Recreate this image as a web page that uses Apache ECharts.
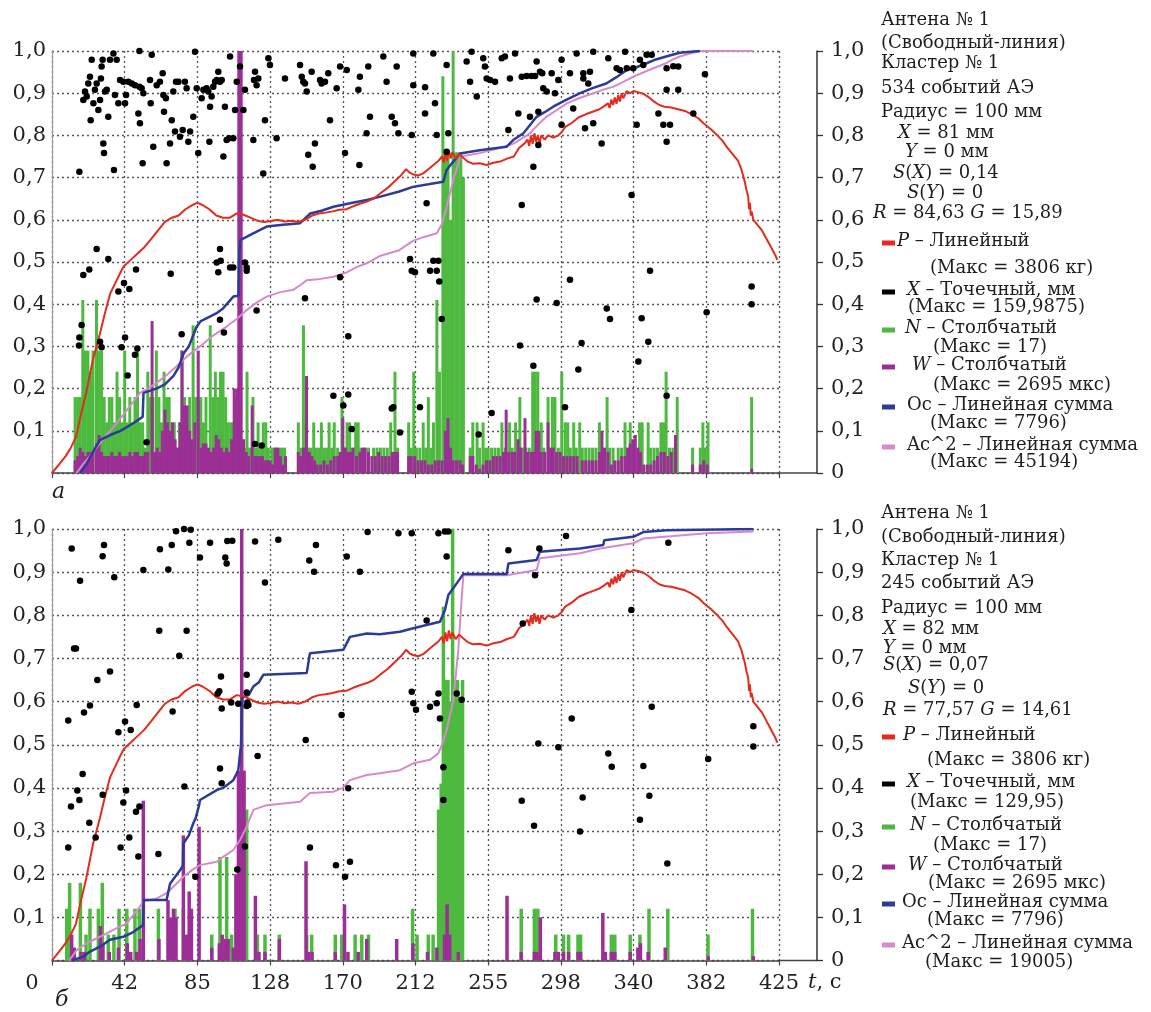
<!DOCTYPE html>
<html><head><meta charset="utf-8">
<script src="https://cdn.jsdelivr.net/npm/echarts@6/dist/echarts.min.js"></script>
<style>html,body{margin:0;padding:0;background:#fff}#c{width:1151px;height:1012px}</style>
</head><body><div id="c"></div>
<script>
// ---------------- DATA ----------------
const xTickLabels = ['0','42','85','128','170','212','255','298','340','382','425'];

// P – load curve (same in both panels), [t, normalized value]
const pCurve = [[0,0],[4,0.02],[8,0.04],[11,0.06],[14,0.085],[17,0.14],[20,0.19],[24,0.27],[28,0.33],[31,0.38],[34,0.425],[37,0.45],[40,0.475],[42,0.49],[46,0.505],[50,0.52],[54,0.535],[58,0.555],[62,0.575],[66,0.595],[70,0.605],[74,0.61],[78,0.625],[82,0.635],[85,0.64],[88,0.635],[92,0.625],[96,0.61],[100,0.605],[104,0.605],[108,0.615],[112,0.612],[116,0.605],[120,0.598],[124,0.595],[128,0.597],[132,0.6],[136,0.596],[140,0.598],[144,0.595],[148,0.6],[152,0.61],[156,0.615],[160,0.617],[164,0.62],[168,0.624],[172,0.625],[176,0.632],[180,0.638],[184,0.643],[188,0.65],[192,0.663],[196,0.675],[200,0.69],[204,0.705],[207,0.72],[209,0.712],[211,0.708],[214,0.705],[217,0.71],[220,0.72],[223,0.73],[226,0.74],[228,0.75],[229,0.735],[230,0.76],[231,0.74],[232,0.765],[233,0.745],[234,0.76],[236,0.745],[238,0.755],[240,0.748],[243,0.738],[246,0.733],[250,0.734],[254,0.73],[258,0.735],[262,0.738],[266,0.745],[270,0.75],[273,0.77],[276,0.78],[278,0.79],[279,0.775],[280,0.8],[281,0.78],[282,0.805],[283,0.785],[284,0.8],[285,0.78],[286,0.8],[288,0.79],[290,0.8],[293,0.795],[296,0.8],[298,0.808],[300,0.82],[304,0.83],[308,0.843],[312,0.85],[316,0.856],[320,0.862],[323,0.87],[325,0.876],[326,0.865],[327,0.885],[328,0.872],[329,0.89],[330,0.875],[331,0.895],[332,0.88],[333,0.9],[334,0.888],[336,0.905],[338,0.9],[340,0.905],[343,0.902],[346,0.898],[349,0.89],[352,0.88],[355,0.872],[358,0.868],[362,0.866],[366,0.862],[370,0.858],[374,0.85],[378,0.84],[381,0.828],[385,0.815],[389,0.8],[392,0.787],[395,0.77],[398,0.755],[401,0.74],[403,0.72],[405,0.69],[406,0.67],[407,0.655],[407.5,0.625],[408,0.64],[408.5,0.61],[409,0.62],[410,0.6],[411,0.595],[413,0.585],[415,0.575],[417,0.56],[419,0.545],[421,0.53],[423,0.515],[424,0.505]];

// ---- panel a ----
const ocTop = [[16.4,0],[20,0.02],[24,0.05],[28,0.078],[34,0.09],[40,0.1],[47.5,0.118],[53,0.133],[53.5,0.19],[61,0.2],[66,0.21],[71,0.23],[74,0.25],[77,0.284],[80,0.3],[84.6,0.347],[87,0.36],[92,0.37],[96,0.378],[100,0.39],[106,0.418],[109,0.42],[109.5,0.52],[110,0.552],[114,0.56],[117.6,0.568],[125.5,0.584],[135,0.588],[145,0.592],[151,0.615],[158,0.622],[164.5,0.631],[175,0.64],[184,0.647],[192,0.655],[203,0.667],[211,0.678],[220,0.684],[228.7,0.69],[230.7,0.718],[234,0.735],[238.5,0.757],[250,0.765],[265.7,0.773],[269.6,0.789],[275.6,0.805],[283.3,0.844],[288,0.855],[293,0.868],[300,0.883],[308.7,0.9],[316,0.912],[324,0.923],[330,0.938],[336,0.955],[342,0.962],[347.6,0.971],[353,0.98],[359,0.987],[367,0.996],[378.8,1.0]];
const acTop = [[14.4,0],[18,0.02],[22,0.039],[28,0.07],[33,0.095],[37.8,0.118],[44,0.15],[51.4,0.19],[56,0.2],[61,0.213],[68,0.235],[74.8,0.26],[80,0.28],[86.5,0.3],[94,0.325],[102,0.347],[108,0.365],[113.8,0.386],[120,0.405],[125.5,0.418],[133,0.428],[141,0.434],[145,0.445],[149,0.457],[157,0.46],[164.6,0.465],[172,0.475],[178,0.488],[184,0.497],[192,0.515],[203,0.528],[211,0.55],[218,0.56],[225,0.568],[228,0.59],[230.7,0.631],[232.5,0.66],[234.6,0.694],[236.5,0.72],[238.5,0.75],[245,0.754],[250,0.758],[260,0.768],[269.6,0.78],[279.4,0.805],[284,0.825],[289,0.844],[295,0.86],[301,0.876],[308,0.888],[316.5,0.9],[322,0.908],[328,0.915],[334,0.927],[339.8,0.939],[349,0.955],[359,0.971],[363,0.98],[367,0.987],[372,0.993],[378.8,1.0],[410,1.0]];
const nTop = [[13.5,.18],[15,.18],[16.5,.18],[18,.41],[19.5,.29],[21,.29],[22.5,.24],[24,.29],[26,.41],[27.5,.29],[29,.29],[30.5,.18],[32,.12],[33.5,.18],[35,.18],[36.5,.12],[38,.24],[39.5,.18],[41,.12],[42.5,.29],[44,.12],[45.5,.18],[47,.12],[48.5,.18],[50,.29],[51.5,.12],[53,.12],[54.5,.06],[56,.24],[57.5,.18],[59,.18],[61,.29],[62.5,.18],[64,.12],[65.5,.24],[67,.18],[68.5,.18],[70,.12],[71.5,.12],[73,.06],[74.5,.12],[76,.29],[77.5,.18],[79,.12],[80.5,.18],[82.5,.35],[84,.18],[85.5,.18],[87,.18],[88.5,.12],[90,.18],[92.5,.35],[94,.18],[95.5,.24],[97,.18],[98.5,.24],[100,.24],[101.5,.18],[103,.12],[104.5,.12],[106,.12],[107.5,.18],[109,.12],[111,.06],[112.5,.06],[114,.24],[115.5,.06],[117.5,.18],[119,.06],[120.5,.12],[122,.06],[123.5,.12],[125,.12],[126.5,.06],[128.5,.06],[130,.06],[131.5,.06],[133,.06],[134.5,.06],[136,.06],
[144,.12],[145.5,.06],[147,.35],[148.5,.12],[150,.06],[151.5,.06],[153,.12],[154.5,.06],[156,.06],[157.5,.12],[159,.06],[160.5,.06],[162,.12],[163.5,.06],[165,.12],[167,.06],[169.5,.18],[171,.06],[172.5,.12],[174,.12],[175.5,.06],[177.5,.12],[179,.12],[180.5,.06],[183,.06],[185,.06],[188,.06],[190,.06],[192,.06],[194,.06],[196,.06],[198,.12],[200.5,.24],[202,.06],
[208.5,.12],[210,.06],[211.5,.24],[213,.06],[215,.06],[217,.12],[218.5,.06],[220,.18],[221.5,.06],[223,.12],[225,.41],[226.5,.24],[228.5,.94],[230,.76],[231.5,.76],[233,.6],[234.5,1.0],[236,.76],[237.5,.76],[239,.76],[240.5,.7],
[244.5,.06],[246,.12],[248.5,.12],[250,.06],[252,.12],[253.5,.06],[255,.06],[257,.06],[259,.06],[261,.06],[263,.12],[265,.06],[267.5,.12],[269,.06],[271,.12],[273.5,.18],[275,.06],[277,.06],[279,.06],[281,.24],[282.5,.24],[284,.24],[286,.12],[287.5,.06],[290,.18],[292.5,.18],[294,.18],[296,.06],[298,.24],[300,.12],[301.5,.12],[303,.06],[305,.12],[306.5,.06],[308.5,.12],[310,.06],[312,.06],[314,.06],[316,.06],[318,.06],[320,.12],[322,.06],[324.5,.18],[326,.06],[328,.06],[331,.06],[333,.06],[335,.12],[337,.06],[338,.12],[340,.06],[343.5,.12],[345,.12],[348.5,.12],[350,.06],[352,.06],[354,.06],[356,.12],[357.5,.12],[359,.24],[361,.06],[363,.06],[365.5,.18],[374.5,.06],[379,.06],[380.5,.12],[382,.06],[383.5,.12],[409,.18]];
const wTop = [[13.5,.03],[15,.04],[16.5,.06],[18,.05],[19.5,.04],[21,.05],[22.5,.05],[24,.05],[26,.07],[27.5,.09],[29,.05],[30.5,.04],[32,.04],[33.5,.04],[35,.05],[36.5,.04],[38,.04],[39.5,.05],[41,.04],[42.5,.04],[44,.04],[45.5,.05],[47,.04],[48.5,.05],[50,.05],[51.5,.04],[53,.04],[54.5,.05],[56,.05],[58.5,.36],[60,.05],[61.5,.06],[63,.05],[64.5,.1],[66,.15],[67.5,.12],[69,.1],[70.5,.12],[72,.08],[73.5,.06],[75,.12],[76,.29],[77.5,.16],[79,.16],[80.5,.1],[82,.08],[83.5,.12],[85.5,.29],[87,.06],[88.5,.07],[90,.07],[91.5,.06],[93,.05],[94.5,.06],[96,.09],[97.5,.08],[99,.06],[100.5,.05],[102,.06],[103.5,.05],[105,.08],[106.5,.2],[108,.2],[109.2,1.0],[110.6,1.0],[112,.08],[113.5,.05],[115,.04],[117,.16],[118.5,.04],[120,.04],[121.5,.04],[123,.04],[124.5,.03],[126,.03],[127.5,.03],[129,.02],[130.5,.06],[132,.06],[133.5,.04],[135,.02],[136.5,.04],
[144,.05],[145.5,.04],[147,.06],[148.8,.23],[150.5,.05],[152,.04],[153.5,.03],[155,.02],[157,.02],[159,.03],[161,.02],[163,.03],[165,.04],[167,.04],[168.5,.05],[170,.13],[171.5,.06],[173,.05],[174.5,.05],[176,.06],[178,.04],[180,.05],[181.5,.06],[183,.06],[185,.05],[187,.04],[189,.04],[191,.05],[193,.04],[195,.04],[197,.04],[199,.05],[200.5,.05],[202,.05],
[208.5,.04],[210,.04],[212,.04],[214,.03],[216,.03],[218,.03],[220,.02],[222,.02],[224,.03],[226,.03],[228,.03],[230,.1],[231.5,.13],[233,.06],[234.5,.03],[236.5,.03],[238.5,.03],[240,.02],
[244.5,.04],[246,.04],[248,.02],[250,.01],[252,.02],[254,.03],[256,.03],[258,.04],[260,.04],[262,.04],[264,.05],[265.5,.15],[267,.05],[269,.05],[270.5,.05],[272.5,.08],[274,.06],[276.5,.13],[278,.05],[280,.05],[281.5,.05],[283,.1],[284.5,.1],[286,.05],[288,.05],[290,.12],[291.5,.06],[293,.06],[295,.05],[297,.05],[299,.04],[301,.04],[303,.04],[305,.04],[307,.04],[310,.03],[312,.03],[314,.03],[316,.03],[318,.03],[320,.05],[321.5,.1],[323,.06],[325,.05],[327,.02],[329,.03],[331,.03],[333,.04],[335,.04],[336.5,.06],[338,.07],[339.5,.08],[341,.09],[342.5,.06],[344,.05],[346,.02],[348,.02],[350,.02],[352,.03],[354,.04],[356,.05],[358,.05],[360,.04],[362,.05],[364.5,.09],[374.5,.02],[379,.02],[381,.03],[383,.02],[409,.01]];
const xTop = [[16.0,0.714],[18.3,0.884],[19.3,0.904],[20.3,0.892],[21.2,0.923],[22.2,0.939],[23.2,0.979],[22.6,0.836],[24.2,0.876],[25.1,0.908],[26.1,0.923],[27.1,0.86],[28.1,0.884],[28.6,0.935],[29.0,0.963],[29.6,0.979],[30.0,0.781],[30.4,0.758],[31.0,0.904],[32.0,0.908],[32.9,0.844],[33.9,0.979],[35.9,0.994],[36.2,0.718],[36.8,0.896],[37.8,0.979],[38.8,0.876],[39.8,0.931],[41.7,0.927],[42.7,0.876],[43.3,0.896],[44.6,0.927],[46.6,0.923],[48.5,0.919],[50.5,0.852],[51.1,0.915],[51.4,0.829],[52.4,0.912],[53.0,0.734],[53.4,0.9],[57.3,0.931],[57.7,0.876],[58.3,0.991],[59.2,0.773],[61.2,0.919],[63.1,0.927],[64.7,0.947],[65.1,0.896],[65.5,0.856],[66.6,0.888],[67.0,0.734],[69.0,0.781],[70.0,0.836],[70.9,0.904],[71.9,0.809],[72.5,0.927],[73.9,0.927],[74.8,0.797],[76.4,0.813],[77.7,0.927],[78.7,0.912],[79.7,0.785],[80.7,0.809],[82.6,0.844],[83.6,0.998],[84.6,0.912],[85.5,0.758],[87.5,0.888],[88.5,0.908],[90.4,0.912],[91.4,0.904],[92.0,0.785],[92.4,0.868],[93.3,0.892],[94.3,0.915],[95.3,0.927],[96.3,0.931],[97.2,0.951],[98.2,0.927],[99.2,0.931],[100.2,0.75],[101.1,0.868],[102.1,0.789],[103.5,0.793],[104.1,0.987],[106.0,0.793],[107.0,0.86],[108.0,0.927],[109.9,0.963],[111.9,0.86],[112.8,0.908],[117.7,0.789],[118.1,0.931],[118.7,0.951],[119.6,0.919],[120.6,0.935],[123.5,0.71],[124.5,0.836],[126.5,0.983],[127.4,0.967],[131.3,0.793],[136.2,0.935],[145.0,0.967],[146.0,0.939],[146.9,0.927],[147.9,0.923],[148.9,0.904],[149.8,0.754],[151.8,0.951],[152.4,0.726],[153.7,0.781],[156.7,0.931],[157.6,0.923],[159.6,0.927],[161.5,0.947],[162.5,0.836],[166.4,0.912],[168.4,0.963],[171.3,0.758],[172.3,0.955],[179.1,0.908],[179.7,0.73],[180.0,0.939],[183.9,0.805],[184.9,0.963],[185.9,0.844],[193.7,0.987],[195.6,0.927],[198.6,0.844],[200.5,0.829],[201.5,0.963],[202.5,0.805],[51.1,1.0],
[26.1,0.531],[32.9,0.507],[18.3,0.469],[21.8,0.482],[16.0,0.321],[15.8,0.302],[17.3,0.351],[28.1,0.311],[29.0,0.298],[38.8,0.43],[42.1,0.45],[45.2,0.436],[42.7,0.321],[40.7,0.298],[44.2,0.231],[48.5,0.28],[49.9,0.295],[49.1,0.482],[55.3,0.073],[69.4,0.472],[75.8,0.329],[98.2,0.531],[96.3,0.499],[98.6,0.503],[97.2,0.476],[98.2,0.363],[100.5,0.333],[104.1,0.487],[106.0,0.487],[112.8,0.499],[113.8,0.487],[113.8,0.479],[119.6,0.385],[118.7,0.069],[122.6,0.065],[147.9,0.414],[164.5,0.183],[168.4,0.464],[173.2,0.324],[173.2,0.186],[170.3,0.16],[175.2,0.104],[198.6,0.153],[203.4,0.096],
[211.2,0.994],[211.2,0.919],[218.1,0.914],[222.9,0.994],[223.9,0.876],[210.3,0.801],[218.1,0.852],[224.9,0.801],[230.7,0.967],[231.7,0.805],[230.7,0.761],[219.0,0.639],[242.4,0.975],[244.4,0.927],[245.3,0.998],[248.3,0.892],[252.1,0.983],[253.1,0.963],[254.1,0.935],[256.1,0.931],[259.0,0.927],[262.9,0.983],[264.8,0.987],[267.7,0.935],[270.7,0.994],[274.6,0.939],[277.5,0.941],[280.4,0.941],[282.4,0.941],[283.3,0.975],[285.3,0.951],[286.6,0.947],[287.2,0.912],[289.2,0.904],[292.1,0.947],[294.0,0.9],[296.0,0.931],[297.9,0.979],[297.9,0.825],[302.8,0.947],[304.7,0.864],[306.7,0.994],[310.6,0.947],[310.6,0.935],[313.5,0.923],[314.5,0.951],[316.4,0.998],[316.4,0.829],[311.6,0.817],[321.3,0.781],[325.2,0.983],[330.1,0.959],[332.0,0.955],[335.0,0.998],[336.0,0.959],[339.8,0.959],[343.7,0.979],[345.7,0.967],[341.8,0.825],[347.6,0.991],[350.6,0.991],[354.5,0.852],[357.4,0.825],[359.3,0.785],[361.3,0.825],[363.2,0.964],[366.1,0.963],[359.3,0.959],[359.3,0.908],[366.1,0.908],[374.9,0.852],[381.7,0.945],[338.8,0.659],[274.6,0.635],[281.4,0.726],[266.8,0.813],[272.6,0.852],[279.4,0.844],[284.3,0.856],[284.3,0.777],
[209.3,0.507],[210.3,0.479],[212.2,0.476],[222.9,0.503],[225.9,0.503],[221.0,0.479],[224.9,0.479],[226.4,0.454],[227.8,0.365],[199.5,0.156],[215.1,0.156],[257.0,0.142],[273.6,0.302],[281.4,0.254],[283.3,0.411],[295.0,0.403],[302.8,0.458],[307.7,0.245],[309.6,0.308],[324.3,0.39],[326.2,0.365],[342.8,0.264],[344.7,0.367],[348.6,0.311],[349.6,0.479],[359.3,0.183],[382.7,0.381],[409.0,0.442],[409.0,0.4],[299.9,0.156],[249.4,0.091]];

// ---- panel b ----
const ocBot = [[11.5,0],[18.3,0.009],[22,0.02],[28,0.032],[33.9,0.048],[41.7,0.055],[47.5,0.066],[53.2,0.082],[53.6,0.14],[67,0.14],[69,0.178],[74.8,0.209],[76.5,0.22],[76.8,0.271],[80,0.29],[82.6,0.318],[84,0.33],[86,0.36],[86.5,0.372],[96.3,0.395],[100,0.4],[106,0.418],[108.9,0.441],[110.5,0.5],[111.2,0.605],[111.8,0.611],[115,0.615],[117.7,0.635],[121,0.645],[123.5,0.662],[148.9,0.666],[150.8,0.712],[170.3,0.72],[174.2,0.75],[184,0.758],[191.7,0.756],[203.4,0.762],[211.2,0.77],[226.8,0.785],[229.7,0.812],[231.7,0.847],[236.6,0.874],[240.5,0.896],[265.8,0.896],[266.8,0.92],[283.3,0.928],[285.2,0.947],[308.7,0.955],[322.3,0.963],[322.8,0.974],[339.8,0.982],[345.7,0.993],[359.3,0.997],[410,1.0]];
const acBot = [[10,0],[14.4,0.024],[20.3,0.04],[28,0.055],[35.8,0.071],[43.7,0.086],[51.4,0.125],[53.4,0.137],[61.2,0.144],[67,0.156],[72,0.175],[76.8,0.194],[82,0.21],[86.5,0.221],[96.3,0.229],[100,0.24],[106,0.256],[110,0.28],[113.8,0.31],[117.7,0.349],[125.5,0.36],[145,0.368],[150.8,0.388],[164.5,0.391],[170,0.4],[174.2,0.418],[184,0.43],[191.7,0.434],[203.4,0.441],[211.2,0.457],[221,0.465],[225.8,0.48],[228,0.5],[230.7,0.534],[234.6,0.603],[237.5,0.719],[239.4,0.835],[240.5,0.893],[265.8,0.893],[283.3,0.905],[285.2,0.932],[308.7,0.944],[320.4,0.955],[339.8,0.967],[345.7,0.978],[382.7,0.99],[410,0.994]];
const nBot = [[8.6,.12],[10.3,.18],[16.6,.18],[19.9,.06],[22.2,.12],[27.1,.12],[29.4,.18],[32.9,.06],[36.2,.06],[39.2,.12],[43.7,.12],[48.5,.12],[51,.12],[62.2,.12],[69,.06],[71.9,.12],[76.8,.12],[80.7,.06],[93.4,.06],[98.2,.24],[102.1,.24],[105,.06],[113.8,.35],[120.1,.06],[124.5,.06],[132.9,.06],[148.9,.06],[151.8,.06],[165.6,.06],[169.4,.06],[177.2,.06],[181.1,.06],[185,.06],
[210.8,.12],[213.4,.06],[220,.06],[222.8,.06],[226,.35],[227.5,.41],[228.8,.82],[230.2,.65],[231.5,.65],[233,.6],[234.2,1.0],[235.5,.65],[237,.65],[238.5,.6],[240,.65],[274.3,.12],[282,.12],[284,.12],[294.5,.06],[299,.06],[302,.06],[307.5,.06],[309,.06],[327,.06],[329,.06],[338,.06],[343.7,.06],[349,.12],[360,.12],[383.5,.06],[409.5,.12]];
const wBot = [[11.5,.06],[13,.03],[17,.02],[19,.02],[28.3,.08],[29.8,.04],[33.5,.02],[38.8,.03],[44,.04],[46,.02],[49.5,.02],[51.5,.05],[53.4,.37],[62.5,.05],[67.8,.14],[69.5,.1],[71,.12],[72.5,.1],[76.8,.29],[78.5,.06],[80.2,.16],[81.5,.12],[86,.31],[93.4,.03],[97.8,.04],[99.5,.06],[101.5,.05],[103,.05],[106,.03],[107.5,.2],[109,.44],[110.9,1.0],[112.3,.44],[118.9,.15],[121,.02],[124.5,.02],[132.9,.05],[148.5,.23],[150,.02],[152,.02],[165.6,.02],[171,.13],[173,.02],[179,.02],[184,.05],
[201.5,.05],[211,.04],[219.5,.02],[225,.03],[229.5,.06],[231,.13],[232.5,.06],[237.5,.02],[266,.15],[274.3,.02],[282,.02],[283.5,.02],[285.5,.1],[294,.02],[296,.02],[299,.02],[302,.02],[307.5,.02],[309,.02],[322,.11],[323.5,.02],[327,.02],[329,.02],[338,.02],[342.5,.03],[344,.04],[348.5,.02],[358.5,.03],[383.6,.01],[410,.01]];
const xBot = [[9.5,0.556],[11.5,0.955],[12.9,0.723],[14.0,0.723],[16.4,0.88],[18.7,0.575],[22.2,0.591],[26.5,0.65],[29.6,0.937],[30.4,0.963],[33.9,0.67],[36.4,0.888],[38.8,0.529],[42.7,0.554],[46.0,0.534],[49.5,0.592],[53.4,0.905],[62.7,0.764],[63.1,0.953],[68.0,0.906],[70.0,0.963],[70.5,0.577],[72.5,0.995],[74.4,0.706],[77.2,1.0],[78.7,0.764],[80.3,0.968],[81.1,0.998],[86.5,0.934],[92.4,0.968],[96.8,0.618],[97.8,0.624],[98.8,0.658],[99.2,0.584],[101.3,0.934],[102.1,0.92],[102.5,0.972],[104.8,0.598],[105.4,0.973],[108.9,0.595],[113.8,0.621],[114.2,0.598],[113.8,0.59],[114.8,0.592],[113.8,0.662],[118.7,0.971],[124.5,0.876],[132.3,0.975],[148.3,0.511],[150.4,0.927],[153.2,0.901],[154.3,0.963],[169.3,0.569],[172.3,0.936],[180.0,0.901],[184.5,0.993],[202.5,0.99],
[9.5,0.262],[11.1,0.357],[14.8,0.394],[16.0,0.372],[17.9,0.432],[21.8,0.319],[25.5,0.285],[29.6,0.384],[41.7,0.366],[40.1,0.262],[43.3,0.394],[45.2,0.285],[49.1,0.345],[50.5,0.241],[51.1,0.357],[62.2,0.247],[77.4,0.403],[83.8,0.194],[98.2,0.445],[99.2,0.411],[108.3,0.211],[112.8,0.264],[120.2,0.474],[150.8,0.262],[166.0,0.221],[171.3,0.194],[174.2,0.229],[173.2,0.399],
[210.3,0.99],[225.9,0.99],[229.7,0.994],[231.7,0.994],[230.7,0.936],[219.0,0.788],[210.3,0.623],[211.2,0.596],[212.8,0.581],[221.0,0.588],[225.9,0.619],[224.9,0.596],[226.8,0.561],[236.6,0.619],[239.5,0.604],[266.8,0.951],[282.4,0.893],[284.9,0.955],[300.5,0.984],[275.2,0.781],[338.7,0.812],[350.6,0.588],[360.3,0.968],[303.8,0.561],[284.3,0.503],[296.0,0.494],[410.0,0.543],[410.0,0.496],
[325.2,0.48],[327.2,0.449],[345.7,0.451],[349.2,0.382],[343.7,0.326],[383.6,0.467],[274.6,0.37],[281.8,0.312],[310.2,0.378],[308.7,0.299],[359.7,0.225],[228.8,0.448],[228.8,0.372]];

// ---- text blocks ----
const infoTop = ['Антена № 1','(Свободный-линия)','Кластер № 1','534 событий АЭ','Радиус = 100 мм','{i|X} = 81 мм','{i|Y} = 0 мм','{i|S}({i|X}) = 0,14','{i|S}({i|Y}) = 0','{i|R} = 84,63 {i|G} = 15,89'];
const infoBot = ['Антена № 1','(Свободный-линия)','Кластер № 1','245 событий АЭ','Радиус = 100 мм','{i|X} = 82 мм','{i|Y} = 0 мм','{i|S}({i|X}) = 0,07','{i|S}({i|Y}) = 0','{i|R} = 77,57 {i|G} = 14,61'];
const legTop = [['{i|P} – Линейный','(Макс = 3806 кг)'],['{i|X} – Точечный, мм','(Макс = 159,9875)'],['{i|N} – Столбчатый','(Макс = 17)'],['{i|W} – Столбчатый','(Макс = 2695 мкс)'],['Oc – Линейная сумма','(Макс = 7796)'],['Ac^2 – Линейная сумма','(Макс = 45194)']];
const legBot = [['{i|P} – Линейный','(Макс = 3806 кг)'],['{i|X} – Точечный, мм','(Макс = 129,95)'],['{i|N} – Столбчатый','(Макс = 17)'],['{i|W} – Столбчатый','(Макс = 2695 мкс)'],['Oc – Линейная сумма','(Макс = 7796)'],['Ac^2 – Линейная сумма','(Макс = 19005)']];

// ---------------- STYLE / LAYOUT ----------------
const COL = {P:'#e52a1e', X:'#000000', N:'#4dba3f', W:'#9c2e96', Oc:'#2c3b98', Ac:'#d68acb'};
const legColors = [COL.P, COL.X, COL.N, COL.W, COL.Oc, COL.Ac];
const FONT = 'DejaVu Serif';
const TXT = '#1e1e1e';
const GL = 52, GW = 727, AXR = 817;
const grids = [{top:51, height:422}, {top:529, height:431.5}];

const infoPosTop = [[881,20],[881,43],[881,63],[881,88],[881,112],[898,133],[905,152],[893,173],[907,193],[873,213]];
const infoPosBot = [[881,513],[881,537],[881,560],[881,583],[881,608],[883,629],[883,648],[883,665],[908,688],[883,710]];
// [markerY, x1, y1, x2, y2]
const legPosTop = [[243,897,241,930,268],[292,907,290,908,307],[330,905,328,933,347],[367,912,365,933,385],[407,907,405,930,423],[447,907,445,930,462]];
const legPosBot = [[737,903,735,927,760],[784,907,782,910,802],[827,910,825,933,845],[867,908,865,928,883],[904,902,902,927,920],[945,902,943,925,962]];

function yFmtLeft(v){ return v < 1e-6 ? '' : v.toFixed(1).replace('.', ','); }
function yFmtRight(v){ return v < 1e-6 ? '0' : v.toFixed(1).replace('.', ','); }

const splitStyle = {show:true, lineStyle:{color:'#555', type:[2,3], width:1.3}};
const labelStyle = {fontFamily:FONT, fontSize:21, color:'#222'};

const xAxes = [0,1].map(g => ({
  type:'value', gridIndex:g, min:0, max:425, interval:42.5,
  axisLine:{show:true, lineStyle:{color:'#444', width:1.5}},
  axisTick:{show:true, length:5, lineStyle:{color:'#444', width:1.2}},
  axisLabel: g === 0 ? {show:false} : Object.assign({}, labelStyle, {
    margin:13,
    formatter: v => { const i = Math.round(v/42.5); return i === 0 ? '{z|0}' : (xTickLabels[i] || ''); },
    rich:{z:{fontFamily:FONT, fontSize:21, color:'#222', padding:[0,40,0,0]}}
  }),
  splitLine: splitStyle
}));
const yAxes = [];
[0,1].forEach(g => {
  yAxes.push({type:'value', gridIndex:g, min:0, max:1, interval:0.1, position:'left',
    axisLine:{show:true, lineStyle:{color:'#9a9a9a', width:1.2}}, axisTick:{show:false},
    axisLabel:Object.assign({}, labelStyle, {margin:6, formatter:yFmtLeft}),
    splitLine: splitStyle});
  yAxes.push({type:'value', gridIndex:g, min:0, max:1, interval:0.1, position:'right', offset:AXR-(GL+GW),
    axisLine:{show:true, lineStyle:{color:'#333', width:1.5}},
    axisTick:{show:true, length:6, lineStyle:{color:'#333', width:1.3}},
    axisLabel:Object.assign({}, labelStyle, {margin:14, formatter:yFmtRight}),
    splitLine:{show:false}});
});

function panelSeries(g, N, W, Oc, Ac, X, bw){
  const xi = g, yi = g*2;
  return [
    {type:'bar', xAxisIndex:xi, yAxisIndex:yi, data:N, barWidth:bw, barGap:'-100%', itemStyle:{color:COL.N}, z:2},
    {type:'bar', xAxisIndex:xi, yAxisIndex:yi, data:W, barWidth:bw, barGap:'-100%', itemStyle:{color:COL.W}, z:3},
    {type:'line', xAxisIndex:xi, yAxisIndex:yi, data:Ac, showSymbol:false, lineStyle:{color:COL.Ac, width:2}, z:4},
    {type:'line', xAxisIndex:xi, yAxisIndex:yi, data:Oc, showSymbol:false, lineStyle:{color:COL.Oc, width:2.5}, z:5},
    {type:'line', xAxisIndex:xi, yAxisIndex:yi, data:pCurve, showSymbol:false, lineStyle:{color:COL.P, width:2}, z:6},
    {type:'scatter', xAxisIndex:xi, yAxisIndex:yi, data:X, symbolSize:6.5, itemStyle:{color:COL.X, opacity:1}, z:7}
  ];
}

// ---------------- GRAPHIC (annotation text) ----------------
function txt(t, x, y, size, italicBase){
  return {type:'text', silent:true, style:{text:t, x:x, y:y, fontFamily:FONT, fontSize:size||18,
    fontStyle: italicBase ? 'italic' : 'normal', fill:TXT, verticalAlign:'middle', textVerticalAlign:'middle',
    rich:{i:{fontStyle:'italic', fontFamily:FONT, fontSize:size||18, fill:TXT}}}};
}
const graphic = [];
infoTop.forEach((t,k) => graphic.push(txt(t, infoPosTop[k][0], infoPosTop[k][1])));
infoBot.forEach((t,k) => graphic.push(txt(t, infoPosBot[k][0], infoPosBot[k][1])));
[[legTop, legPosTop],[legBot, legPosBot]].forEach(([L, P]) => {
  L.forEach((pair, k) => {
    const p = P[k];
    graphic.push({type:'rect', silent:true, shape:{x:882, y:p[0]-2.5, width:13, height:5}, style:{fill:legColors[k]}});
    graphic.push(txt(pair[0], p[1], p[2]));
    graphic.push(txt(pair[1], p[3], p[4]));
  });
});
// axis-line extension between the plot's right edge and the right value axis
grids.forEach(gr => {
  const y = gr.top + gr.height;
  graphic.push({type:'line', silent:true, shape:{x1:GL+GW, y1:y, x2:AXR, y2:y}, style:{stroke:'#444', lineWidth:1.5}});
});
graphic.push(txt('а', 52, 492, 22, true));
graphic.push(txt('б', 55, 1000, 22, true));
graphic.push(txt('{i|t}, с', 808, 983, 21));

const chart = echarts.init(document.getElementById('c'), null, {renderer:'canvas'});
chart.setOption({
  animation:false,
  backgroundColor:'#ffffff',
  grid: grids.map(g => ({left:GL, width:GW, top:g.top, height:g.height, containLabel:false})),
  xAxis: xAxes,
  yAxis: yAxes,
  series: [].concat(panelSeries(0, nTop, wTop, ocTop, acTop, xTop, 3), panelSeries(1, nBot, wBot, ocBot, acBot, xBot, 3.5)),
  graphic: graphic
});
</script>
</body></html>
